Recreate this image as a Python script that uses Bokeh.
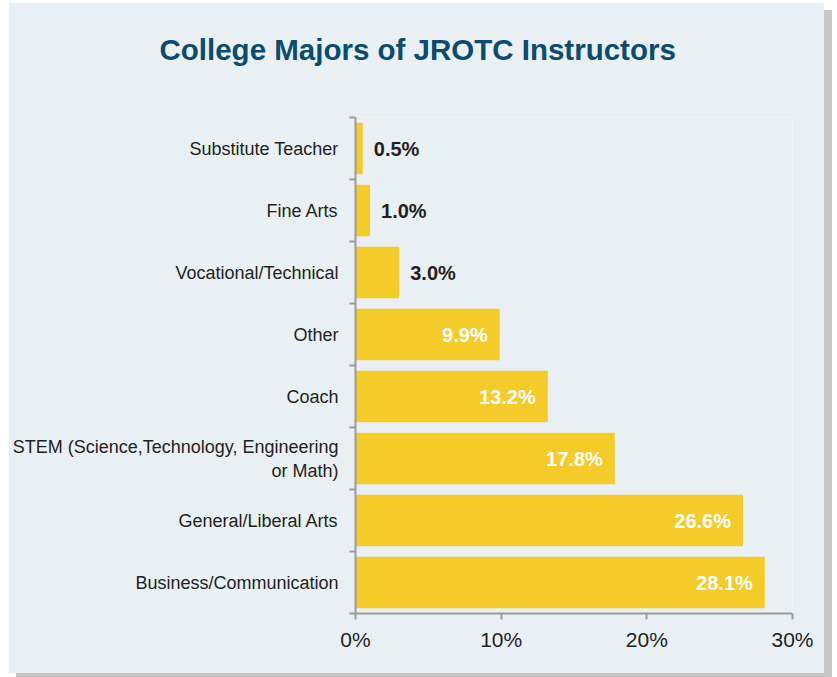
import numpy as np
from bokeh.plotting import figure
from bokeh.models import ColumnDataSource, Range1d, LinearAxis, FixedTicker, Title
from bokeh.core.properties import value
from bokeh.embed import file_html
from bokeh.resources import INLINE

# ---- data (top to bottom as in the chart) ----
title_text = "College Majors of JROTC Instructors"
categories = [
    "Substitute Teacher",
    "Fine Arts",
    "Vocational/Technical",
    "Other",
    "Coach",
    "STEM (Science,Technology, Engineering\nor Math)",
    "General/Liberal Arts",
    "Business/Communication",
]
percentages = [0.5, 1.0, 3.0, 9.9, 13.2, 17.8, 26.6, 28.1]
x_ticks = [0, 10, 20, 30]
x_tick_labels = ["0%", "10%", "20%", "30%"]

BG = "#e8f0f4"
BAR = "#f5cb2a"
AXIS = "#9b9b9b"
DARK = "#231f20"
TITLE = "#0b4b6d"
SHADOW = "#c7c7c7"
FONT = "Liberation Sans"

n = len(categories)
centers = [n - 1 - i + 0.5 for i in range(n)]
labels = [f"{v:.1f}%" for v in percentages]
inside = [v > 5 for v in percentages]

src_bars = ColumnDataSource(dict(y=centers, right=percentages))
src_in = ColumnDataSource(dict(
    x=[v for v, f in zip(percentages, inside) if f],
    y=[c for c, f in zip(centers, inside) if f],
    t=[l for l, f in zip(labels, inside) if f]))
src_out = ColumnDataSource(dict(
    x=[v for v, f in zip(percentages, inside) if not f],
    y=[c for c, f in zip(centers, inside) if not f],
    t=[l for l, f in zip(labels, inside) if not f]))

p = figure(width=816, height=671, output_backend="svg", toolbar_location=None,
           title=None,
           x_range=Range1d(0, 30), y_range=Range1d(0, n),
           min_border_left=347, min_border_right=32,
           min_border_top=60, min_border_bottom=60,
           background_fill_color=BG, border_fill_color=BG,
           outline_line_color=None,
           margin=(2, 0, 0, 8),
           styles={"box-shadow": f"8px 8px 0px {SHADOW}"})

# spacer between frame and title, then the title itself (outermost)
p.add_layout(Title(text=" ", text_font_size="1px", standoff=21), "above")
p.add_layout(Title(text=title_text, align="left", offset=-196, standoff=56,
                   text_font=FONT, text_font_size="29.5px",
                   text_font_style="bold", text_color=TITLE), "above")

p.grid.visible = False

p.hbar(y="y", right="right", left=0, height=0.83, source=src_bars,
       fill_color=BAR, line_color=None)

p.text(x="x", y="y", text="t", source=src_in, x_offset=-12,
       text_align="right", text_baseline="middle",
       text_font=value(FONT), text_font_size="20px", text_font_style="bold",
       text_color="white")
p.text(x="x", y="y", text="t", source=src_out, x_offset=11,
       text_align="left", text_baseline="middle",
       text_font=value(FONT), text_font_size="20px", text_font_style="bold",
       text_color=DARK)

# x axis
xa = p.xaxis[0]
xa.ticker = FixedTicker(ticks=x_ticks)
xa.major_label_overrides = {t: l for t, l in zip(x_ticks, x_tick_labels)}
xa.axis_line_color = AXIS
xa.axis_line_width = 2
xa.major_tick_line_color = AXIS
xa.major_tick_line_width = 2
xa.major_tick_in = 0
xa.major_tick_out = 6
xa.minor_tick_line_color = None
xa.major_label_standoff = 8
xa.major_label_text_font = FONT
xa.major_label_text_font_size = "21px"
xa.major_label_text_color = DARK

# y axis: boundary ticks
ya = p.yaxis[0]
ya.ticker = FixedTicker(ticks=list(range(n + 1)))
ya.axis_line_color = AXIS
ya.axis_line_width = 2
ya.major_tick_line_color = AXIS
ya.major_tick_line_width = 2
ya.major_tick_in = 0
ya.major_tick_out = 6
ya.minor_tick_line_color = None
ya.major_label_text_font_size = "0px"
ya.major_label_text_color = None
ya.major_label_standoff = 0

# y axis: category labels
la = LinearAxis(ticker=FixedTicker(ticks=centers),
                major_label_overrides={c: cat for c, cat in zip(centers, categories)},
                axis_line_color=None, major_tick_line_color=None,
                minor_tick_line_color=None,
                major_label_standoff=5,
                major_label_text_font=FONT,
                major_label_text_font_size="18px",
                major_label_text_color=DARK)
p.add_layout(la, "left")

open("out.html", "w").write(file_html(p, INLINE))
